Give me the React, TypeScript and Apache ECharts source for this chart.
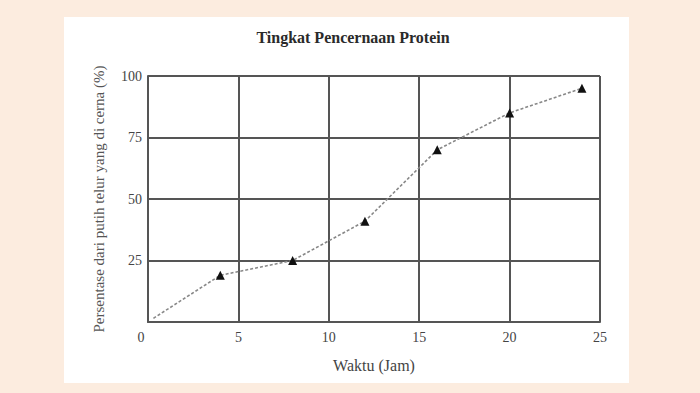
import React, { useEffect, useRef } from "react";
import * as echarts from "echarts";

const titleText = "Tingkat Pencernaan Protein";
const xName = "Waktu (Jam)";
const yName = "Persentase dari putih telur yang di cerna (%)";
const hours = [0.3, 4, 8, 12, 16, 20, 24];
const digested = [1.5, 19, 25, 41, 70, 85, 95];
const markerFlags = [false, true, true, true, true, true, true];

export default function App() {
  const ref = useRef<HTMLDivElement>(null);
  useEffect(() => {
    if (!ref.current) return;
    const chart = echarts.init(ref.current, undefined, { renderer: "svg" });
    const font = "'Liberation Serif', 'DejaVu Serif', serif";
    const data = hours.map((h, i) => ({
      value: [h, digested[i]],
      symbol: markerFlags[i] ? "triangle" : "none",
    }));
    chart.setOption({
      animation: false,
      backgroundColor: "#fcecdf",
      graphic: [
        {
          type: "rect",
          shape: { x: 64, y: 17, width: 565, height: 366 },
          style: { fill: "#ffffff" },
          z: -10,
          silent: true,
        },
        {
          type: "text",
          x: 353,
          y: 37,
          style: {
            text: titleText,
            font: `bold 16px ${font}`,
            fill: "#2a2a2a",
            align: "center",
            verticalAlign: "middle",
          },
        },
      ],
      grid: { left: 148, right: 100, top: 76, bottom: 71, containLabel: false },
      xAxis: {
        type: "value",
        min: 0,
        max: 25,
        interval: 5,
        name: xName,
        nameLocation: "middle",
        nameGap: 35,
        nameTextStyle: { fontFamily: font, fontSize: 16, color: "#444" },
        axisLine: { show: true, lineStyle: { color: "#555", width: 2 } },
        axisTick: { show: false },
        splitLine: { show: true, lineStyle: { color: "#555", width: 2 } },
        axisLabel: {
          margin: 8,
          fontFamily: font,
          fontSize: 14,
          color: "#444",
          formatter: (v: number) => (v === 0 ? "{z|0}" : String(v)),
          rich: {
            z: { fontFamily: font, fontSize: 14, color: "#444444", padding: [0, 14, 0, 0] },
          },
        },
      },
      yAxis: {
        type: "value",
        min: 0,
        max: 100,
        interval: 25,
        name: yName,
        nameLocation: "middle",
        nameGap: 42,
        nameTextStyle: { fontFamily: font, fontSize: 15, color: "#555" },
        axisLine: { show: true, lineStyle: { color: "#555", width: 2 } },
        axisTick: { show: false },
        splitLine: { show: true, lineStyle: { color: "#555", width: 2 } },
        axisLabel: {
          margin: 6,
          fontFamily: font,
          fontSize: 14,
          color: "#444",
          formatter: (v: number) => (v === 0 ? "" : String(v)),
        },
      },
      series: [
        {
          type: "line",
          data,
          symbolSize: 9,
          itemStyle: { color: "#111" },
          lineStyle: { color: "#888", width: 1.6, type: [3, 2] },
          z: 5,
        },
      ],
    });
    return () => chart.dispose();
  }, []);
  return (
    <div
      ref={ref}
      style={{ position: "fixed", left: 0, top: 0, width: 700, height: 393 }}
    />
  );
}
